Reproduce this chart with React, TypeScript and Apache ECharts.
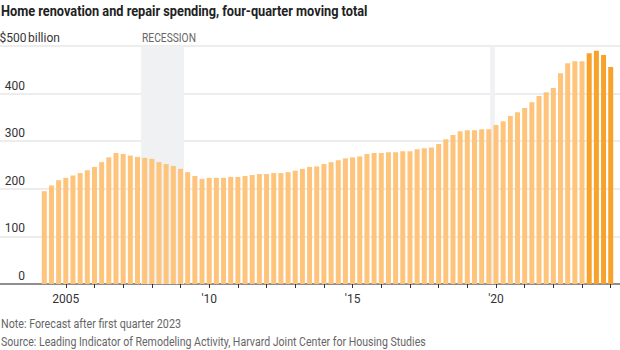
import React, { useEffect, useRef } from "react";
import * as echarts from "echarts";

// ---------- data ----------
const startYear = 2004;
const startQuarter = 2;
const spending = [
  195, 207, 218, 223, 228, 233, 239, 246, 256, 266,
  275, 273, 270, 267, 265, 263, 256, 252, 248, 242,
  235, 227, 221, 223, 223, 223, 225, 225, 227, 229,
  231, 231, 233, 233, 235, 238, 242, 246, 247, 252,
  256, 260, 264, 266, 268, 273, 275, 275, 277, 277,
  279, 279, 283, 285, 287, 294, 304, 313, 321, 323,
  323, 325, 325, 334, 342, 353, 361, 370, 382, 395,
  403, 412, 443, 464, 468, 468, 485, 490, 481, 456,
];
const quarters: string[] = spending.map((_, i) => {
  const q = startQuarter - 1 + i;
  return `${startYear + Math.floor(q / 4)} Q${(q % 4) + 1}`;
});
const forecastStart = "2023 Q2";
const tickQuarters = ["2005 Q1", "2010 Q1", "2015 Q1", "2020 Q1"];
const tickLabels = ["2005", "'10", "'15", "'20"];
// recession spans, in quarter-slot units (0 = first bar)
const recessionFrom = [13.5, 62.2];
const recessionTo = [19.5, 62.85];
const yTicksMax = 500;

// ---------- layout ----------
const W = 620;
const H = 350;
const BAND = 7.17;
const BAR_LEFT = 40.7;
const TOP = 46;
const BOTTOM = H - 284;
const FONT = "Roboto, 'Noto Sans', sans-serif";

function fitScale(text: string, font: string, target: number): number {
  const c = document.createElement("canvas").getContext("2d");
  if (!c) return 1;
  c.font = font;
  const w = c.measureText(text).width;
  return w > 0 ? Math.min(1, target / w) : 1;
}

function squeezedText(
  text: string,
  x: number,
  y: number,
  size: number,
  weight: string,
  fill: string,
  target: number
) {
  const font = `${weight} ${size}px Roboto`;
  return {
    type: "text",
    x,
    y,
    scaleX: fitScale(text, font, target),
    silent: true,
    style: {
      text,
      fontFamily: FONT,
      fontSize: size,
      fontWeight: weight,
      fill,
      align: "left",
      verticalAlign: "middle",
    },
  };
}

export default function App() {
  const ref = useRef<HTMLDivElement>(null);
  useEffect(() => {
    if (!ref.current) return;
    const chart = echarts.init(ref.current, undefined, { renderer: "svg" });
    const fcIdx = quarters.indexOf(forecastStart);
    const xMin = -BAR_LEFT / BAND - 0.5;
    const xMax = (W - BAR_LEFT) / BAND - 0.5;
    chart.setOption({
      animation: false,
      textStyle: { fontFamily: FONT },
      grid: [
        { left: 0, right: 0, top: TOP, bottom: BOTTOM, containLabel: false, outerBoundsMode: "none" },
        {
          left: BAR_LEFT,
          width: BAND * quarters.length,
          top: TOP,
          bottom: BOTTOM,
          containLabel: false,
          outerBoundsMode: "none",
        },
      ],
      xAxis: [
        {
          gridIndex: 0,
          type: "value",
          min: xMin,
          max: xMax,
          axisLine: { show: true, onZero: false, lineStyle: { color: "#8e8e8e", width: 2 } },
          axisTick: { show: false },
          axisLabel: { show: false },
          splitLine: { show: false },
        },
        {
          gridIndex: 1,
          type: "category",
          data: quarters,
          boundaryGap: true,
          axisLine: { show: false },
          axisTick: {
            show: true,
            alignWithLabel: true,
            length: 4,
            interval: (_i: number, v: string) => v.endsWith("Q1"),
            lineStyle: { color: "#333", width: 1 },
          },
          axisLabel: {
            interval: (_i: number, v: string) => tickQuarters.includes(v),
            formatter: (v: string) => tickLabels[tickQuarters.indexOf(v)] ?? "",
            color: "#333",
            fontSize: 12,
            fontFamily: FONT,
            margin: 9,
          },
        },
      ],
      yAxis: [
        {
          gridIndex: 0,
          type: "value",
          min: 0,
          max: yTicksMax,
          interval: 100,
          axisLine: { show: false },
          axisTick: { show: false },
          splitLine: { lineStyle: { color: "#ededed", width: 2 } },
          axisLabel: {
            inside: true,
            margin: 1,
            align: "left",
            verticalAlign: "bottom",
            padding: [0, 0, 2, 0],
            formatter: (v: number) =>
              v === yTicksMax ? `{n|$${v}}{b|billion}` : `{n|${v}}`,
            rich: {
              n: { width: 24, align: "right", fontSize: 12, color: "#333", fontFamily: FONT },
              b: { fontSize: 12, color: "#333", fontFamily: FONT, padding: [0, 0, 0, 3] },
            },
          },
        },
        {
          gridIndex: 1,
          type: "value",
          min: 0,
          max: yTicksMax,
          show: false,
          splitLine: { show: false },
        },
      ],
      series: [
        {
          type: "scatter",
          xAxisIndex: 0,
          yAxisIndex: 0,
          data: [],
          z: 1,
          silent: true,
          markArea: {
            silent: true,
            itemStyle: { color: "#f0f1f2" },
            data: recessionFrom.map((f, i) => [
              { xAxis: f, yAxis: 0 },
              { xAxis: recessionTo[i], yAxis: yTicksMax },
            ]),
          },
        },
        {
          type: "bar",
          xAxisIndex: 1,
          yAxisIndex: 1,
          barWidth: 5,
          z: 3,
          data: spending.map((v, i) => ({
            value: v,
            itemStyle: { color: i >= fcIdx ? "#f8a22b" : "#fec47c" },
          })),
        },
      ],
      graphic: [
        squeezedText(
          "Home renovation and repair spending, four-quarter moving total",
          1, 11, 15, "bold", "#222", 367
        ),
        squeezedText("RECESSION", 142, 38, 12, "normal", "#666", 54),
        squeezedText("Note: Forecast after first quarter 2023", 1, 324, 13, "normal", "#666", 180),
        squeezedText(
          "Source: Leading Indicator of Remodeling Activity, Harvard Joint Center for Housing Studies",
          1, 342, 13, "normal", "#666", 425
        ),
      ],
    });
    return () => chart.dispose();
  }, []);
  return (
    <div
      ref={ref}
      style={{ position: "fixed", left: 0, top: 0, width: W, height: H, background: "#fff" }}
    />
  );
}
